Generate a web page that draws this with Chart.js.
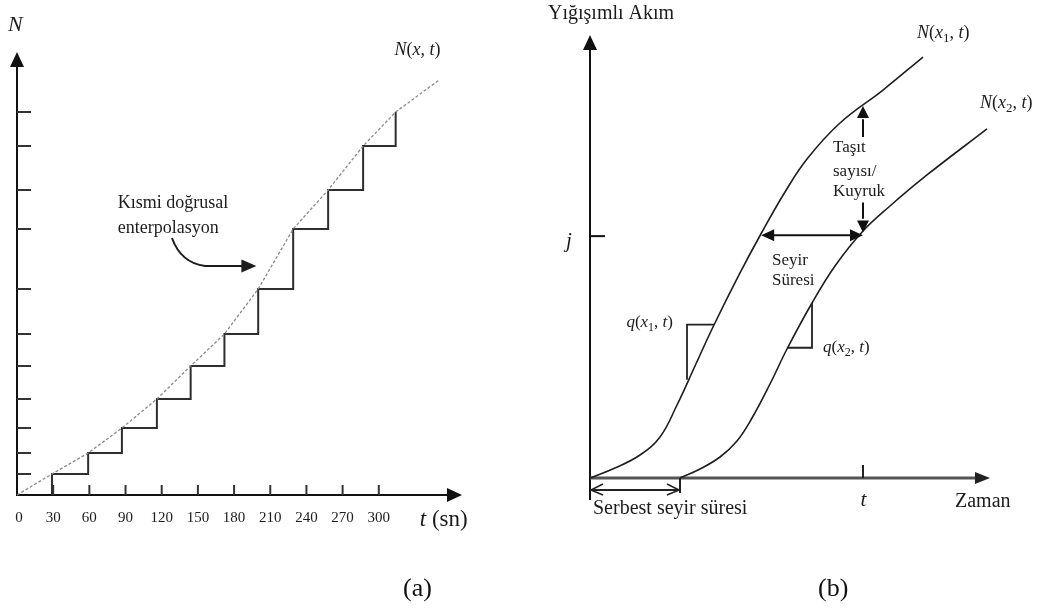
<!DOCTYPE html>
<html>
<head>
<meta charset="utf-8">
<script src="https://cdn.jsdelivr.net/npm/chart.js@4.4.1/dist/chart.umd.min.js"></script>
<style>
  html, body { margin: 0; padding: 0; background: #fff; }
  #wrap { position: relative; width: 1041px; height: 610px; overflow: hidden; }
  canvas { position: absolute; top: 0; }
  #chartA { left: 0; }
  #chartB { left: 520px; }
  .cap { position: absolute; top: 573px; font: 26px 'Liberation Serif', 'Times New Roman', serif; color: #111; line-height: 30px; }
</style>
</head>
<body>
<div id="wrap">
  <canvas id="chartA" width="520" height="610"></canvas>
  <canvas id="chartB" width="521" height="610"></canvas>
  <div class="cap" style="left:403px">(a)</div>
  <div class="cap" style="left:818px">(b)</div>
</div>
<script>
// (a) kümülatif sayım: basamak zamanları (sn) ve seviyeleri
const stepTimes = [29, 59, 87, 116, 144, 172, 200, 229, 258, 287, 314];
const stepCounts = [21, 42, 67, 96, 129, 161, 206, 266, 305, 349, 383];
// kısmi doğrusal enterpolasyon
const curveTimes = [0, 29, 59, 87, 116, 144, 172, 200, 229, 258, 287, 314, 350];
const curveCounts = [0, 21, 42, 67, 96, 129, 161, 206, 266, 305, 349, 383, 415];
const xTickValues = [0, 30, 60, 90, 120, 150, 180, 210, 240, 270, 300];
const xTickLabels = ['0', '30', '60', '90', '120', '150', '180', '210', '240', '270', '300'];

// (b) yığışımlı akım eğrileri
const timeX1 = [0, 6.25, 12.5, 17.5, 21.75, 26.25, 30.75, 37.5, 43, 48.75, 54.25, 62.5, 73.25, 83.25];
const countX1 = [0, 2.26, 5.19, 9.26, 16.48, 25.28, 34.09, 46.28, 55.53, 64.56, 72.01, 80.14, 87.58, 95.03];
const timeX2 = [22.5, 27.5, 32.5, 36.75, 40.5, 45, 49.25, 55.5, 61.25, 68.25, 75, 84.25, 99.25];
const countX2 = [0, 2.03, 4.74, 8.35, 13.54, 21.22, 29.12, 39.5, 47.86, 55.76, 61.4, 68.4, 78.8];
const jLevel = 54.6;
const tMark = 68.25;

const SERIF = "'Liberation Serif', 'Times New Roman', serif";
const INK = '#1c1c1c';

function zip(xs, ys) {
    return xs.map((x, i) => ({ x: x, y: ys[i] }));
}

function arrowHead(ctx, x, y, angle, len, half) {
    ctx.save();
    ctx.translate(x, y);
    ctx.rotate(angle);
    ctx.beginPath();
    ctx.moveTo(0, 0);
    ctx.lineTo(-len, -half);
    ctx.lineTo(-len, half);
    ctx.closePath();
    ctx.fill();
    ctx.restore();
}

function line(ctx, x1, y1, x2, y2) {
    ctx.beginPath();
    ctx.moveTo(x1, y1);
    ctx.lineTo(x2, y2);
    ctx.stroke();
}

// parts: [metin, stil] stil: 'i' italik, 's' alt simge, '' normal
function rich(ctx, parts, x, y, size) {
    let cx = x;
    parts.forEach(p => {
        const sub = p[1] === 's';
        const fs = sub ? Math.round(size * 0.7) : size;
        ctx.font = (p[1] === 'i' ? 'italic ' : '') + fs + 'px ' + SERIF;
        ctx.fillText(p[0], cx, sub ? y + size * 0.3 : y);
        cx += ctx.measureText(p[0]).width;
    });
    return cx - x;
}

function baseOptions(xMax, yMax, padding) {
    return {
        responsive: false,
        animation: false,
        events: [],
        layout: { padding: padding },
        plugins: { legend: { display: false }, tooltip: { enabled: false } },
        elements: { point: { radius: 0 } },
        scales: {
            x: { type: 'linear', min: 0, max: xMax, display: false },
            y: { type: 'linear', min: 0, max: yMax, display: false }
        }
    };
}

const panelA = {
    id: 'panelA',
    beforeDatasetsDraw(chart) {
        const { ctx, chartArea: a, scales: { x, y } } = chart;
        ctx.save();
        ctx.strokeStyle = '#111';
        ctx.fillStyle = '#111';
        ctx.lineWidth = 2;
        line(ctx, a.left, a.bottom, a.left, a.top + 12);
        line(ctx, a.left - 1, a.bottom, a.right - 12, a.bottom);
        arrowHead(ctx, a.left, a.top, -Math.PI / 2, 15, 7);
        arrowHead(ctx, a.right, a.bottom, 0, 15, 7);
        ctx.strokeStyle = '#333';
        stepCounts.forEach(v => line(ctx, a.left, y.getPixelForValue(v), a.left + 14, y.getPixelForValue(v)));
        xTickValues.slice(1).forEach(v => line(ctx, x.getPixelForValue(v), a.bottom, x.getPixelForValue(v), a.bottom - 10));
        ctx.restore();
    },
    afterDatasetsDraw(chart) {
        const { ctx, chartArea: a, scales: { x, y } } = chart;
        const P = (u, v) => [x.getPixelForValue(u), y.getPixelForValue(v)];
        ctx.save();
        ctx.fillStyle = INK;
        ctx.strokeStyle = INK;
        ctx.textBaseline = 'middle';
        ctx.textAlign = 'center';
        ctx.font = '15px ' + SERIF;
        xTickValues.forEach((v, i) => ctx.fillText(xTickLabels[i], x.getPixelForValue(v) + (i === 0 ? 2 : 0), a.bottom + 23));
        ctx.textAlign = 'left';
        rich(ctx, [['N', 'i']], a.left - 9, a.top - 27, 22);
        rich(ctx, [['N', 'i'], ['(', ''], ['x', 'i'], [', ', ''], ['t', 'i'], [')', '']], ...P(313, 445), 18);
        rich(ctx, [['t', 'i'], [' (sn)', '']], ...P(334, -25), 23);
        ctx.font = '18px ' + SERIF;
        ctx.fillText('Kısmi doğrusal', ...P(83.5, 292));
        ctx.fillText('enterpolasyon', ...P(83.5, 267));
        // eğri ok
        ctx.lineWidth = 2;
        const s = P(128.5, 257), c = P(136, 232), m = P(156, 229), e = P(187, 229), tip = P(198.5, 229);
        ctx.beginPath();
        ctx.moveTo(s[0], s[1]);
        ctx.quadraticCurveTo(c[0], c[1], m[0], m[1]);
        ctx.lineTo(e[0], e[1]);
        ctx.stroke();
        arrowHead(ctx, tip[0], tip[1], 0, 15, 6.5);
        ctx.restore();
    }
};

const panelB = {
    id: 'panelB',
    beforeDatasetsDraw(chart) {
        const { ctx, chartArea: a, scales: { x, y } } = chart;
        ctx.save();
        ctx.fillStyle = '#111';
        ctx.strokeStyle = '#111';
        ctx.lineWidth = 2;
        line(ctx, a.left, a.bottom + 22, a.left, a.top + 12);
        arrowHead(ctx, a.left, a.top, -Math.PI / 2, 15, 7);
        const yj = y.getPixelForValue(jLevel);
        line(ctx, a.left, yj, a.left + 15, yj);
        ctx.strokeStyle = '#555';
        ctx.lineWidth = 3;
        line(ctx, a.left, a.bottom, a.right - 12, a.bottom);
        ctx.fillStyle = '#222';
        arrowHead(ctx, a.right, a.bottom, 0, 15, 6);
        ctx.strokeStyle = '#222';
        ctx.lineWidth = 2;
        const xt = x.getPixelForValue(tMark);
        line(ctx, xt, a.bottom, xt, a.bottom - 13);
        ctx.restore();
    },
    afterDatasetsDraw(chart) {
        const { ctx, chartArea: a, scales: { x, y } } = chart;
        const P = (u, v) => [x.getPixelForValue(u), y.getPixelForValue(v)];
        ctx.save();
        ctx.fillStyle = '#111';
        ctx.strokeStyle = '#111';
        // Seyir süresi oku
        ctx.lineWidth = 2;
        let p1 = P(44.5, 54.8), p2 = P(67, 54.8);
        line(ctx, p1[0], p1[1], p2[0], p2[1]);
        arrowHead(ctx, ...P(42.8, 54.8), Math.PI, 13, 6);
        arrowHead(ctx, ...P(68.25, 54.8), 0, 13, 6);
        // Taşıt sayısı oku
        p1 = P(tMark, 81); p2 = P(tMark, 77);
        line(ctx, p1[0], p1[1], p2[0], p2[1]);
        arrowHead(ctx, ...P(tMark, 84), -Math.PI / 2, 12, 6);
        p1 = P(tMark, 62.2); p2 = P(tMark, 58.5);
        line(ctx, p1[0], p1[1], p2[0], p2[1]);
        arrowHead(ctx, ...P(tMark, 55.4), Math.PI / 2, 12, 6);
        // q üçgenleri
        ctx.lineWidth = 1.8;
        ctx.strokeStyle = '#222';
        let q = [P(31, 34.6), P(24.25, 34.6), P(24.25, 22.2)];
        ctx.beginPath(); ctx.moveTo(...q[0]); ctx.lineTo(...q[1]); ctx.lineTo(...q[2]); ctx.stroke();
        q = [P(55.5, 39.5), P(55.5, 29.4), P(49.3, 29.4)];
        ctx.beginPath(); ctx.moveTo(...q[0]); ctx.lineTo(...q[1]); ctx.lineTo(...q[2]); ctx.stroke();
        // Serbest seyir süresi oku
        ctx.lineWidth = 2;
        const yb = a.bottom + 12;
        const x0 = a.left, x2 = x.getPixelForValue(timeX2[0]);
        line(ctx, x0, yb, x2, yb);
        line(ctx, x2, a.bottom, x2, a.bottom + 15);
        ctx.lineWidth = 1.5;
        line(ctx, x0 + 1, yb, x0 + 13, yb - 6);
        line(ctx, x0 + 1, yb, x0 + 13, yb + 5);
        line(ctx, x2 - 1, yb, x2 - 13, yb - 6);
        line(ctx, x2 - 1, yb, x2 - 13, yb + 5);
        // metinler
        ctx.fillStyle = INK;
        ctx.textBaseline = 'middle';
        ctx.textAlign = 'left';
        ctx.font = '20px ' + SERIF;
        ctx.fillText('Yığışımlı Akım', a.left - 42, a.top - 21);
        rich(ctx, [['j', 'i']], ...P(-6, 53.3), 21);
        rich(ctx, [['N', 'i'], ['(', ''], ['x', 'i'], ['1', 's'], [', ', ''], ['t', 'i'], [')', '']], ...P(81.75, 100.5), 18);
        rich(ctx, [['N', 'i'], ['(', ''], ['x', 'i'], ['2', 's'], [', ', ''], ['t', 'i'], [')', '']], ...P(97.5, 84.7), 18);
        ctx.font = '17px ' + SERIF;
        ctx.fillText('Taşıt', ...P(60.75, 74.5));
        ctx.fillText('sayısı/', ...P(60.75, 69.1));
        ctx.fillText('Kuyruk', ...P(60.75, 64.6));
        ctx.fillText('Seyir', ...P(45.5, 49.2));
        ctx.fillText('Süresi', ...P(45.5, 44.5));
        rich(ctx, [['q', 'i'], ['(', ''], ['x', 'i'], ['2', 's'], [', ', ''], ['t', 'i'], [')', '']], ...P(58.25, 29.4), 17);
        const q1 = [['q', 'i'], ['(', ''], ['x', 'i'], ['1', 's'], [', ', ''], ['t', 'i'], [')', '']];
        ctx.save(); ctx.globalAlpha = 0;
        const w1 = rich(ctx, q1, 0, 0, 17);
        ctx.restore();
        rich(ctx, q1, x.getPixelForValue(20.75) - w1, y.getPixelForValue(35.0), 17);
        rich(ctx, [['t', 'i']], ...P(tMark - 0.6, -5), 21);
        ctx.font = '20px ' + SERIF;
        ctx.fillText('Zaman', ...P(91.25, -5.4));
        ctx.fillText('Serbest seyir süresi', ...P(0.75, -6.9));
        ctx.restore();
    }
};

// (a) basamaklı sayım
const stepPoints = [{ x: stepTimes[0], y: 0 }];
for (let i = 1; i < stepTimes.length; i++) stepPoints.push({ x: stepTimes[i], y: stepCounts[i - 1] });
stepPoints.push({ x: stepTimes[stepTimes.length - 1], y: stepCounts[stepCounts.length - 1] });

new Chart(document.getElementById('chartA'), {
    type: 'line',
    data: {
        datasets: [{
            data: zip(curveTimes, curveCounts),
            borderColor: '#8a8a8a',
            borderWidth: 1.3,
            borderDash: [3, 2],
            tension: 0,
            clip: false
        }, {
            data: stepPoints,
            stepped: 'after',
            borderColor: '#2e2e2e',
            borderWidth: 2,
            clip: false
        }]
    },
    options: baseOptions(369, 443, { left: 17, top: 52, right: 58, bottom: 115 }),
    plugins: [panelA]
});

// (b) iki kesitteki yığışımlı akım
new Chart(document.getElementById('chartB'), {
    type: 'line',
    data: {
        datasets: [{
            data: zip(timeX1, countX1),
            borderColor: '#1e1e1e',
            borderWidth: 1.6,
            tension: 0.4,
            clip: false
        }, {
            data: zip(timeX2, countX2),
            borderColor: '#1e1e1e',
            borderWidth: 1.6,
            tension: 0.4,
            clip: false
        }]
    },
    options: baseOptions(100, 100, { left: 70, top: 35, right: 51, bottom: 132 }),
    plugins: [panelB]
});
</script>
</body>
</html>
